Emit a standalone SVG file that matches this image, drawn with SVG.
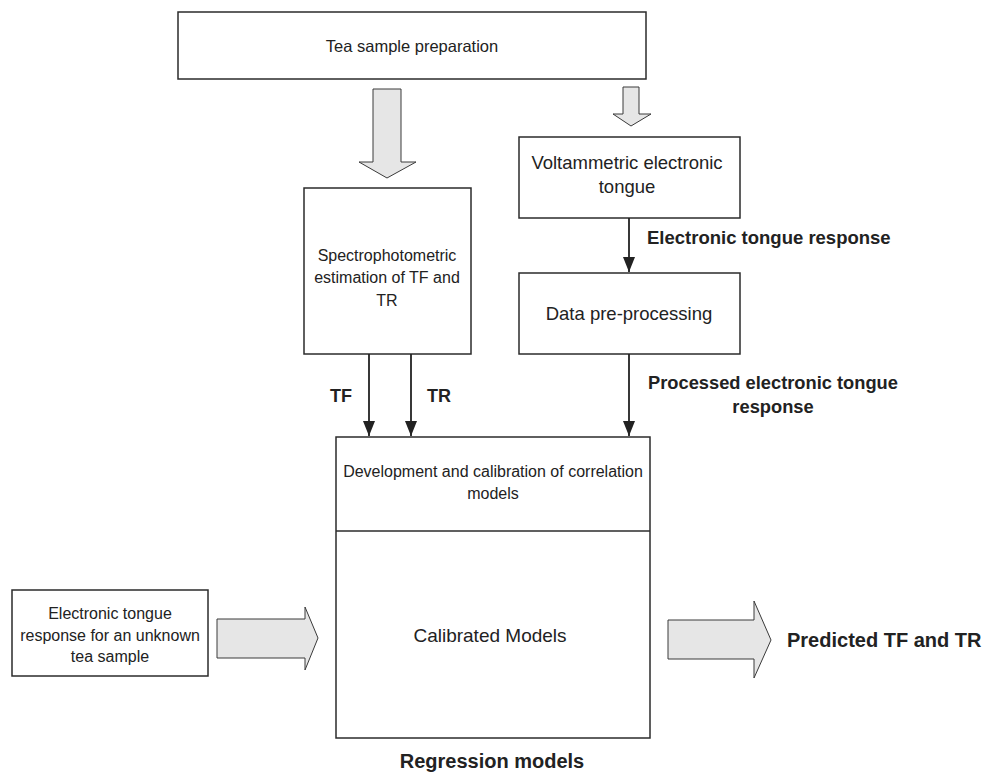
<svg xmlns="http://www.w3.org/2000/svg" width="994" height="774" viewBox="0 0 994 774">
<style>
.box{fill:#fff;stroke:#2b2b2b;stroke-width:1.5}
.blk{fill:#e6e6e6;stroke:#3a3a3a;stroke-width:1}
.t{font-family:"Liberation Sans",Arial,sans-serif;fill:#222;text-anchor:middle}
.b{font-family:"Liberation Sans",Arial,sans-serif;fill:#222;font-weight:bold}
.ln{stroke:#222;stroke-width:1.8;fill:none}
#regression-label text{text-anchor:middle}
</style>
<defs>
<marker id="ah" viewBox="0 0 15 12" refX="15" refY="6" markerWidth="15" markerHeight="12" markerUnits="userSpaceOnUse" orient="auto">
<path d="M0,0 L15,6 L0,12 Z" fill="#222"/>
</marker>
</defs>
<rect width="994" height="774" fill="#fff"/>
<g id="prep">
<rect class="box" x="178" y="12" width="468" height="67"/>
<text class="t" x="412" y="52" font-size="16.5">Tea sample preparation</text>
</g>
<g id="spectro">
<rect class="box" x="304" y="188" width="167" height="166"/>
<text class="t" x="387" y="261" font-size="16">Spectrophotometric</text>
<text class="t" x="387" y="283" font-size="16">estimation of TF and</text>
<text class="t" x="387" y="306" font-size="16">TR</text>
</g>
<g id="volt">
<rect class="box" x="519" y="137" width="221" height="81"/>
<text class="t" x="627" y="169" font-size="18.5">Voltammetric electronic</text>
<text class="t" x="627" y="193" font-size="18.5">tongue</text>
</g>
<g id="preproc">
<rect class="box" x="519" y="273" width="221" height="81"/>
<text class="t" x="629" y="320" font-size="18.5">Data pre-processing</text>
</g>
<g id="models">
<rect class="box" x="336" y="437" width="314" height="301"/>
<line class="box" x1="336" y1="531" x2="650" y2="531"/>
<text class="t" x="493" y="477" font-size="16">Development and calibration of correlation</text>
<text class="t" x="493" y="499" font-size="16">models</text>
<text class="t" x="490" y="642" font-size="19">Calibrated Models</text>
</g>
<g id="unknown">
<rect class="box" x="12" y="590" width="196" height="86"/>
<text class="t" x="110" y="619" font-size="16">Electronic tongue</text>
<text class="t" x="110" y="641" font-size="16">response for an unknown</text>
<text class="t" x="110" y="662" font-size="16">tea sample</text>
</g>
<g id="regression-label">
<text class="b" x="492" y="768" font-size="20">Regression models</text>
</g>
<g id="predicted">
<text class="b" x="787" y="647" font-size="20">Predicted TF and TR</text>
</g>
<g id="connectors">
<path class="blk" d="M373,89 H401 V162 H416 L387,178 L359,162 H373 Z"/>
<path class="blk" d="M623,87 H639 V114 H651 L631,126 L613,114 H623 Z"/>
<path class="blk" d="M217,619 H305 V607 L318,638 L305,670 V658 H217 Z"/>
<path class="blk" d="M668,620 H754 V601 L771,640 L754,678 V659 H668 Z"/>
<line class="ln" x1="629" y1="218" x2="629" y2="272" marker-end="url(#ah)"/>
<line class="ln" x1="369" y1="354" x2="369" y2="436" marker-end="url(#ah)"/>
<line class="ln" x1="411" y1="354" x2="411" y2="436" marker-end="url(#ah)"/>
<line class="ln" x1="629" y1="354" x2="629" y2="436" marker-end="url(#ah)"/>
<text class="b" x="647" y="244" font-size="18.5">Electronic tongue response</text>
<text class="b" x="330" y="402" font-size="18">TF</text>
<text class="b" x="427" y="402" font-size="18">TR</text>
<text class="b" x="773" y="389" font-size="18.3" text-anchor="middle">Processed electronic tongue</text>
<text class="b" x="773" y="413" font-size="18.3" text-anchor="middle">response</text>
</g>
</svg>
